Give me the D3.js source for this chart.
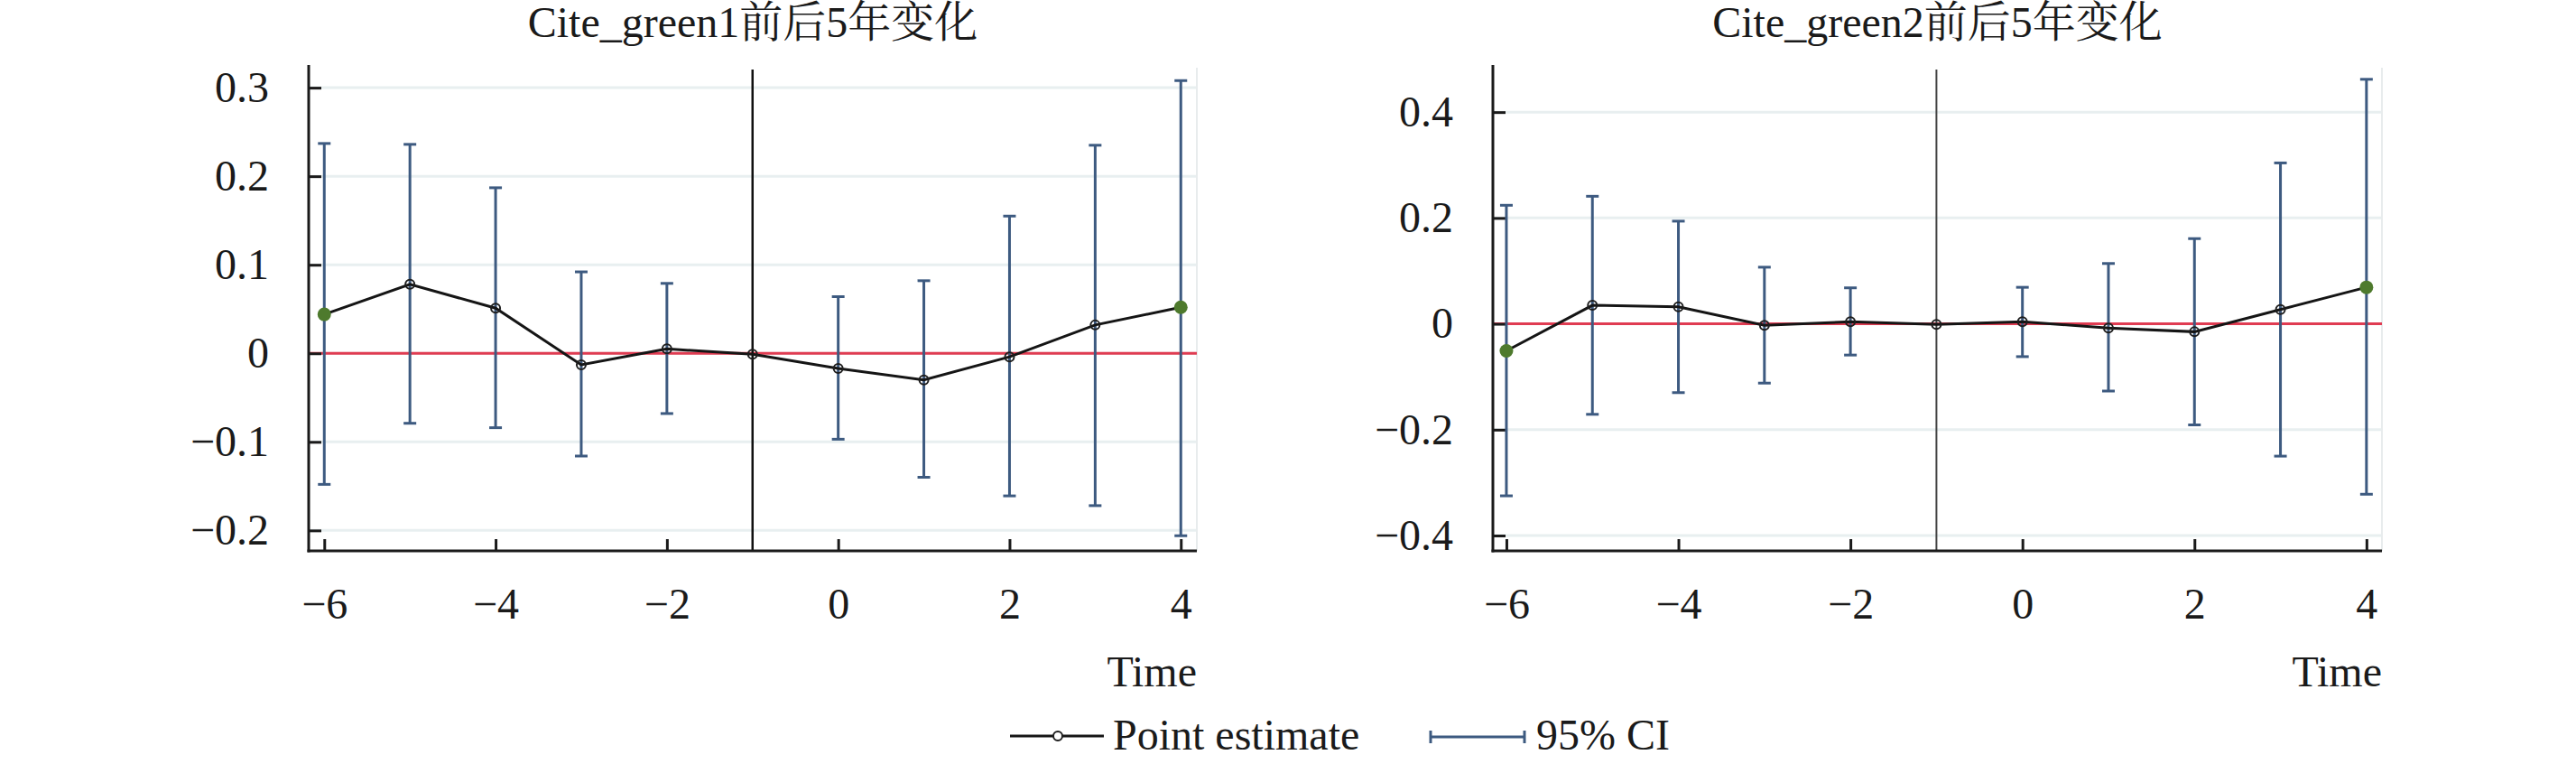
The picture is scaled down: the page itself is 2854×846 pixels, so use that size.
<!DOCTYPE html>
<html>
<head>
<meta charset="utf-8">
<script src="https://cdn.jsdelivr.net/npm/d3@7/dist/d3.min.js"></script>
<title>Cite_green 前后5年变化</title>
<style>
body { margin: 0; background: #fff; }
text { font-family: "Liberation Serif", "Noto Serif CJK SC", "Noto Sans CJK SC", serif; fill: #1a1a1a; }
</style>
</head>
<body>
<script>

// event time
var periods = [-6, -5, -4, -3, -2, -1, 0, 1, 2, 3, 4];
var xTicks = [-6, -4, -2, 0, 2, 4];

// Cite_green1
var est1 = [0.044, 0.078, 0.051, -0.013, 0.005, -0.001, -0.017, -0.030, -0.004, 0.032, 0.052];
var hi1  = [0.237, 0.236, 0.187, 0.092, 0.079, null, 0.064, 0.082, 0.155, 0.235, 0.308];
var lo1  = [-0.148, -0.079, -0.084, -0.116, -0.068, null, -0.097, -0.140, -0.161, -0.172, -0.206];
var yTicks1 = [-0.2, -0.1, 0, 0.1, 0.2, 0.3];

// Cite_green2
var est2 = [-0.051, 0.035, 0.032, -0.003, 0.004, -0.001, 0.004, -0.008, -0.015, 0.027, 0.069];
var hi2  = [0.224, 0.241, 0.194, 0.107, 0.068, null, 0.069, 0.114, 0.161, 0.304, 0.462];
var lo2  = [-0.325, -0.171, -0.130, -0.112, -0.059, null, -0.062, -0.127, -0.191, -0.250, -0.322];
var yTicks2 = [-0.4, -0.2, 0, 0.2, 0.4];

var titles = ["Cite_green1前后5年变化", "Cite_green2前后5年变化"];

var width = 2854,
    height = 846;

var svg = d3.select("body")
  .append("svg")
  .attr("width", width)
  .attr("height", height);

var panels = [
  { title: titles[0], est: est1, lo: lo1, hi: hi1, yTicks: yTicks1,
    left: 342, right: 1326, xDom: [-6.182, 4.187], yDom: [-0.2231, 0.3256], refColor: "#111", refWidth: 2.5 },
  { title: titles[1], est: est2, lo: lo2, hi: hi2, yTicks: yTicks2,
    left: 1654, right: 2639, xDom: [-6.157, 4.18], yDom: [-0.429, 0.489], refColor: "#444", refWidth: 2 }
];

var plotTop = 72, plotBottom = 610;
var ciColor = "#3d5a80", lineColor = "#151515", green = "#4e7a2d";

panels.forEach(function(p) {
  var g = svg.append("g");

  var x = d3.scaleLinear().domain(p.xDom).range([p.left, p.right]);
  var y = d3.scaleLinear().domain(p.yDom).range([plotBottom, plotTop]);

  // grid
  g.selectAll(".grid")
    .data(p.yTicks)
    .enter().append("line")
    .attr("x1", p.left).attr("x2", p.right)
    .attr("y1", function(d) { return y(d); })
    .attr("y2", function(d) { return y(d); })
    .attr("stroke", "#e8eff0")
    .attr("stroke-width", 3);

  // faint right border
  g.append("line")
    .attr("x1", p.right).attr("x2", p.right)
    .attr("y1", plotTop + 3).attr("y2", plotBottom)
    .attr("stroke", "#e8eced")
    .attr("stroke-width", 2);

  // zero line
  g.append("line")
    .attr("x1", p.left).attr("x2", p.right)
    .attr("y1", y(0)).attr("y2", y(0))
    .attr("stroke", "#e03c52")
    .attr("stroke-width", 3);

  // reference period
  g.append("line")
    .attr("x1", x(-1)).attr("x2", x(-1))
    .attr("y1", plotTop + 5).attr("y2", plotBottom)
    .attr("stroke", p.refColor)
    .attr("stroke-width", p.refWidth);

  // axes
  var yAxis = d3.axisLeft(y)
    .tickValues(p.yTicks)
    .tickSize(-14)
    .tickSizeOuter(0)
    .tickPadding(44)
    .tickFormat(d3.format("~g"));

  var ya = g.append("g")
    .attr("transform", "translate(" + p.left + ",0)")
    .call(yAxis);
  ya.select(".domain").remove();
  ya.selectAll(".tick line").attr("stroke", "#1a1a1a").attr("stroke-width", 3);
  ya.selectAll(".tick text")
    .style("font-size", "48px")
    .style("font-family", "'Liberation Serif', serif")
    .attr("fill", "#1a1a1a");

  var xAxis = d3.axisBottom(x)
    .tickValues(xTicks)
    .tickSize(-13)
    .tickSizeOuter(0)
    .tickFormat(d3.format("d"));

  var xa = g.append("g")
    .attr("transform", "translate(0," + plotBottom + ")")
    .call(xAxis);
  xa.select(".domain").remove();
  xa.selectAll(".tick line").attr("stroke", "#1a1a1a").attr("stroke-width", 3);
  xa.selectAll(".tick text")
    .attr("y", 75)
    .attr("dy", 0)
    .style("font-size", "48px")
    .style("font-family", "'Liberation Serif', serif")
    .attr("fill", "#1a1a1a");

  g.append("line")
    .attr("x1", p.left).attr("x2", p.left)
    .attr("y1", plotTop).attr("y2", plotBottom + 1.5)
    .attr("stroke", "#1a1a1a").attr("stroke-width", 3);
  g.append("line")
    .attr("x1", p.left - 1.5).attr("x2", p.right)
    .attr("y1", plotBottom).attr("y2", plotBottom)
    .attr("stroke", "#1a1a1a").attr("stroke-width", 3);

  // confidence intervals
  var ci = periods.map(function(t, i) { return { t: t, lo: p.lo[i], hi: p.hi[i] }; })
    .filter(function(d) { return d.lo !== null; });

  var bars = g.selectAll(".ci").data(ci).enter().append("g");
  bars.append("line")
    .attr("x1", function(d) { return x(d.t); })
    .attr("x2", function(d) { return x(d.t); })
    .attr("y1", function(d) { return y(d.lo); })
    .attr("y2", function(d) { return y(d.hi); })
    .attr("stroke", ciColor).attr("stroke-width", 3);
  ["lo", "hi"].forEach(function(k) {
    bars.append("line")
      .attr("x1", function(d) { return x(d.t) - 7; })
      .attr("x2", function(d) { return x(d.t) + 7; })
      .attr("y1", function(d) { return y(d[k]); })
      .attr("y2", function(d) { return y(d[k]); })
      .attr("stroke", ciColor).attr("stroke-width", 3);
  });

  // point estimates
  var pts = periods.map(function(t, i) { return { t: t, v: p.est[i], i: i }; });

  g.append("path")
    .datum(pts)
    .attr("fill", "none")
    .attr("stroke", lineColor)
    .attr("stroke-width", 3)
    .attr("d", d3.line()
      .x(function(d) { return x(d.t); })
      .y(function(d) { return y(d.v); }));

  g.selectAll(".pt")
    .data(pts)
    .enter().append("circle")
    .attr("cx", function(d) { return x(d.t); })
    .attr("cy", function(d) { return y(d.v); })
    .attr("r", function(d) { return (d.i === 0 || d.i === pts.length - 1) ? 7.5 : 5; })
    .attr("fill", function(d) { return (d.i === 0 || d.i === pts.length - 1) ? green : "none"; })
    .attr("stroke", function(d) { return (d.i === 0 || d.i === pts.length - 1) ? "none" : "#1e1e1e"; })
    .attr("stroke-width", 2);

  // title and axis label
  g.append("text")
    .attr("x", (p.left + p.right) / 2)
    .attr("y", 41)
    .attr("text-anchor", "middle")
    .style("font-size", "48px")
    .text(p.title);

  g.append("text")
    .attr("x", p.right)
    .attr("y", 760)
    .attr("text-anchor", "end")
    .style("font-size", "48px")
    .text("Time");
});

// legend
var leg = svg.append("g");
leg.append("line")
  .attr("x1", 1119).attr("x2", 1223)
  .attr("y1", 815).attr("y2", 815)
  .attr("stroke", lineColor).attr("stroke-width", 3);
leg.append("circle")
  .attr("cx", 1172).attr("cy", 815).attr("r", 5)
  .attr("fill", "#fff").attr("stroke", "#1e1e1e").attr("stroke-width", 2);
leg.append("text")
  .attr("x", 1233).attr("y", 830)
  .style("font-size", "48px")
  .text("Point estimate");

leg.append("line")
  .attr("x1", 1585).attr("x2", 1689)
  .attr("y1", 816).attr("y2", 816)
  .attr("stroke", ciColor).attr("stroke-width", 3);
[1585, 1689].forEach(function(cx) {
  leg.append("line")
    .attr("x1", cx).attr("x2", cx)
    .attr("y1", 809).attr("y2", 823)
    .attr("stroke", ciColor).attr("stroke-width", 3);
});
leg.append("text")
  .attr("x", 1702).attr("y", 830)
  .style("font-size", "48px")
  .text("95% CI");

</script>
</body>
</html>
